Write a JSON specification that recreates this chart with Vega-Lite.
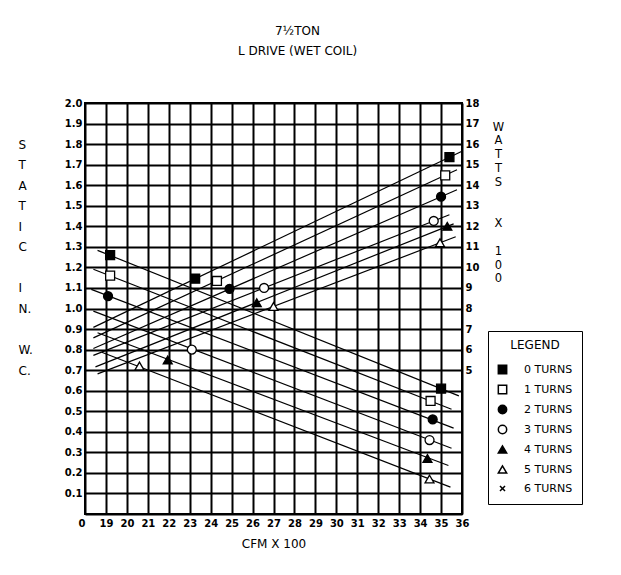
{
  "$schema": "https://vega.github.io/schema/vega-lite/v6.json",
  "width": 377,
  "height": 411,
  "autosize": {"type": "none"},
  "padding": {"left": 85, "top": 103, "right": 159, "bottom": 61},
  "background": "white",
  "title": {
    "text": ["7½TON", "L DRIVE (WET COIL)"],
    "font": "DejaVu Sans",
    "fontSize": 12,
    "fontWeight": "normal",
    "lineHeight": 20,
    "anchor": "middle",
    "dx": 24,
    "offset": 40,
    "color": "black"
  },
  "config": {
    "view": {"stroke": "black", "strokeWidth": 2},
    "axis": {
      "labelFont": "DejaVu Sans",
      "labelFontSize": 10,
      "labelFontWeight": "bold",
      "labelColor": "black",
      "titleFont": "DejaVu Sans",
      "titleFontWeight": "normal",
      "titleFontSize": 12,
      "titleColor": "black",
      "ticks": false,
      "domain": false
    },
    "legend": {
      "orient": "none",
      "legendX": 403,
      "legendY": 228,
      "strokeColor": "black",
      "padding": 9,
      "titleFont": "DejaVu Sans",
      "titleFontSize": 12,
      "titleFontWeight": "normal",
      "titleColor": "black",
      "titleAnchor": "middle",
      "titlePadding": 12,
      "labelFont": "DejaVu Sans",
      "labelFontSize": 11,
      "labelColor": "black",
      "labelOffset": 16,
      "rowPadding": 5,
      "symbolSize": 70
    }
  },
  "datasets": {
    "staticLines": [
      {"turns": "0 TURNS", "cfm": 18.6, "static": 1.283},
      {"turns": "0 TURNS", "cfm": 35.85, "static": 0.575},
      {"turns": "1 TURNS", "cfm": 18.4, "static": 1.191},
      {"turns": "1 TURNS", "cfm": 35.5, "static": 0.51},
      {"turns": "2 TURNS", "cfm": 18.3, "static": 1.093},
      {"turns": "2 TURNS", "cfm": 35.6, "static": 0.418},
      {"turns": "3 TURNS", "cfm": 18.4, "static": 0.987},
      {"turns": "3 TURNS", "cfm": 35.5, "static": 0.32},
      {"turns": "4 TURNS", "cfm": 18.6, "static": 0.882},
      {"turns": "4 TURNS", "cfm": 35.35, "static": 0.236},
      {"turns": "5 TURNS", "cfm": 18.8, "static": 0.787},
      {"turns": "5 TURNS", "cfm": 35.45, "static": 0.131}
    ],
    "staticPoints": [
      {"turns": "0 TURNS", "cfm": 19.2, "static": 1.26},
      {"turns": "0 TURNS", "cfm": 35.0, "static": 0.61},
      {"turns": "1 TURNS", "cfm": 19.2, "static": 1.16},
      {"turns": "1 TURNS", "cfm": 34.5, "static": 0.55},
      {"turns": "2 TURNS", "cfm": 19.1, "static": 1.06},
      {"turns": "2 TURNS", "cfm": 34.6, "static": 0.46},
      {"turns": "3 TURNS", "cfm": 23.1, "static": 0.8},
      {"turns": "3 TURNS", "cfm": 34.45, "static": 0.36},
      {"turns": "4 TURNS", "cfm": 21.95, "static": 0.75},
      {"turns": "4 TURNS", "cfm": 34.35, "static": 0.27},
      {"turns": "5 TURNS", "cfm": 20.6, "static": 0.72},
      {"turns": "5 TURNS", "cfm": 34.45, "static": 0.17}
    ],
    "wattLines": [
      {"turns": "0 TURNS", "cfm": 18.4, "watts": 7.08},
      {"turns": "0 TURNS", "cfm": 36.0, "watts": 15.65},
      {"turns": "1 TURNS", "cfm": 18.4, "watts": 6.57},
      {"turns": "1 TURNS", "cfm": 35.76, "watts": 14.75},
      {"turns": "2 TURNS", "cfm": 18.4, "watts": 6.05},
      {"turns": "2 TURNS", "cfm": 35.76, "watts": 13.78},
      {"turns": "3 TURNS", "cfm": 18.4, "watts": 5.72},
      {"turns": "3 TURNS", "cfm": 35.4, "watts": 12.56},
      {"turns": "4 TURNS", "cfm": 18.5, "watts": 5.16},
      {"turns": "4 TURNS", "cfm": 35.6, "watts": 12.12},
      {"turns": "5 TURNS", "cfm": 18.6, "watts": 4.82},
      {"turns": "5 TURNS", "cfm": 35.7, "watts": 11.49}
    ],
    "wattPoints": [
      {"turns": "0 TURNS", "cfm": 23.26, "watts": 9.45},
      {"turns": "0 TURNS", "cfm": 35.4, "watts": 15.37},
      {"turns": "1 TURNS", "cfm": 24.3, "watts": 9.34},
      {"turns": "1 TURNS", "cfm": 35.2, "watts": 14.48},
      {"turns": "2 TURNS", "cfm": 24.9, "watts": 8.96},
      {"turns": "2 TURNS", "cfm": 35.0, "watts": 13.44},
      {"turns": "3 TURNS", "cfm": 26.55, "watts": 9.0},
      {"turns": "3 TURNS", "cfm": 34.65, "watts": 12.26},
      {"turns": "4 TURNS", "cfm": 26.2, "watts": 8.28},
      {"turns": "4 TURNS", "cfm": 35.3, "watts": 12.0},
      {"turns": "5 TURNS", "cfm": 27.0, "watts": 8.1},
      {"turns": "5 TURNS", "cfm": 34.95, "watts": 11.2}
    ]
  },
  "encoding": {
    "x": {
      "field": "cfm",
      "type": "quantitative",
      "scale": {"domain": [18, 36], "nice": false, "zero": false},
      "axis": {
        "values": [18, 19, 20, 21, 22, 23, 24, 25, 26, 27, 28, 29, 30, 31, 32, 33, 34, 35, 36],
        "labelExpr": "datum.value == 18 ? '0' : datum.label",
        "labelAlign": {"expr": "datum.value == 18 ? 'right' : 'center'"},
        "grid": true,
        "gridColor": "black",
        "gridWidth": 2,
        "gridOpacity": 1,
        "labelPadding": 4,
        "labelFlush": false,
        "title": "CFM X 100",
        "titlePadding": 10
      }
    }
  },
  "layer": [
    {
      "encoding": {
        "y": {
          "field": "static",
          "type": "quantitative",
          "scale": {"domain": [0, 2], "nice": false},
          "axis": {
            "orient": "left",
            "values": [0, 0.1, 0.2, 0.3, 0.4, 0.5, 0.6, 0.7, 0.8, 0.9, 1.0, 1.1, 1.2, 1.3, 1.4, 1.5, 1.6, 1.7, 1.8, 1.9, 2.0],
            "labelExpr": "datum.value == 0 ? '' : format(datum.value, '.1f')",
            "grid": true,
            "gridColor": "black",
            "gridWidth": 2,
            "gridOpacity": 1,
            "labelPadding": 3,
            "title": ["S", "T", "A", "T", "I", "C", "\u2800", "I", "N.", "\u2800", "W.", "C."],
            "titleAngle": 0,
            "titleAlign": "left",
            "titleBaseline": "middle",
            "titleLineHeight": 20.55,
            "titleX": -67,
            "titleY": 41
          }
        }
      },
      "layer": [
        {
          "data": {"name": "staticLines"},
          "mark": {"type": "line", "color": "black", "strokeWidth": 1.2},
          "encoding": {"detail": {"field": "turns"}}
        },
        {
          "data": {"name": "staticPoints"},
          "mark": {"type": "point", "filled": true, "stroke": "black", "strokeWidth": 1.3, "opacity": 1, "size": 80},
          "encoding": {
            "shape": {"field": "turns", "type": "nominal", "title": "LEGEND",
              "scale": {"domain": ["0 TURNS", "1 TURNS", "2 TURNS", "3 TURNS", "4 TURNS", "5 TURNS", "6 TURNS"],
                "range": ["square", "square", "circle", "circle", "triangle-up", "triangle-up", "M-0.6,-0.6L0.6,0.6M-0.6,0.6L0.6,-0.6"]},
              "legend": {"encode": {"symbols": {"update": {"stroke": {"value": "black"}, "strokeWidth": {"value": 1.3}}}}}},
            "fill": {"field": "turns", "type": "nominal", "title": "LEGEND",
              "scale": {"domain": ["0 TURNS", "1 TURNS", "2 TURNS", "3 TURNS", "4 TURNS", "5 TURNS", "6 TURNS"],
                "range": ["black", "white", "black", "white", "black", "white", "white"]}}
          }
        }
      ]
    },
    {
      "encoding": {
        "y": {
          "field": "watts",
          "type": "quantitative",
          "scale": {"domain": [-2, 18], "nice": false, "zero": false},
          "axis": {
            "orient": "right",
            "values": [5, 6, 7, 8, 9, 10, 11, 12, 13, 14, 15, 16, 17, 18],
            "grid": false,
            "labelPadding": 3,
            "title": ["W", "A", "T", "T", "S", "\u2800", "\u2800", "X", "\u2800", "1", "0", "0"],
            "titleAngle": 0,
            "titleAlign": "center",
            "titleBaseline": "middle",
            "titleFontSize": 11.5,
            "titleLineHeight": 13.8,
            "titleX": 36,
            "titleY": 24
          }
        }
      },
      "layer": [
        {
          "data": {"name": "wattLines"},
          "mark": {"type": "line", "color": "black", "strokeWidth": 1.2},
          "encoding": {"detail": {"field": "turns"}}
        },
        {
          "data": {"name": "wattPoints"},
          "mark": {"type": "point", "filled": true, "stroke": "black", "strokeWidth": 1.3, "opacity": 1, "size": 80},
          "encoding": {
            "shape": {"field": "turns", "type": "nominal", "title": "LEGEND"},
            "fill": {"field": "turns", "type": "nominal", "title": "LEGEND"}
          }
        }
      ]
    }
  ],
  "resolve": {"scale": {"y": "independent"}}
}
